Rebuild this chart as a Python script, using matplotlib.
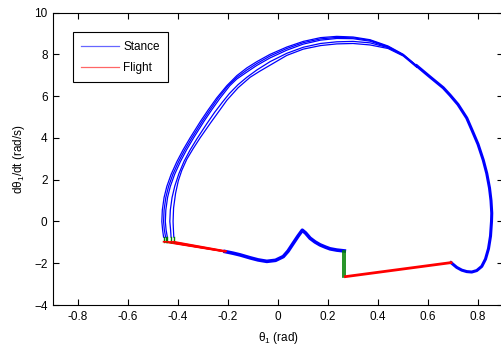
import matplotlib
matplotlib.use("Agg")
import matplotlib.pyplot as plt

plt.rcParams['font.family'] = ['Liberation Sans', 'DejaVu Sans']
plt.rcParams['mathtext.fontset'] = 'custom'
plt.rcParams['mathtext.rm'] = 'Liberation Sans'
plt.rcParams['mathtext.it'] = 'Liberation Sans'

# ---- data ----
# common right-hand stance arc (after the second flight phase)
right_arc_x = [0.692, 0.700, 0.715, 0.735, 0.755, 0.775, 0.795, 0.815, 0.830, 0.842, 0.850, 0.854, 0.855, 0.852,
               0.846, 0.835, 0.821, 0.800, 0.775, 0.755, 0.720, 0.688, 0.661, 0.608, 0.555]
right_arc_y = [-1.97, -2.05, -2.20, -2.33, -2.40, -2.42, -2.35, -2.15, -1.80, -1.30, -0.70, 0.00, 0.40, 1.00,
               1.60, 2.30, 2.94, 3.70, 4.40, 4.95, 5.60, 6.05, 6.40, 6.92, 7.45]

# upper/left stance arcs, one per cycle (outermost -> innermost)
loop1_x = [0.555, 0.501, 0.440, 0.368, 0.300, 0.235, 0.170, 0.101, 0.035, -0.032, -0.085, -0.125, -0.165, -0.205,
           -0.245, -0.279, -0.310, -0.352, -0.380, -0.405, -0.428, -0.445, -0.456, -0.463, -0.465, -0.462, -0.458]
loop1_y = [7.45, 8.00, 8.40, 8.70, 8.83, 8.86, 8.80, 8.62, 8.35, 8.00, 7.65, 7.35, 6.98, 6.50,
           5.92, 5.35, 4.80, 4.00, 3.43, 2.86, 2.25, 1.68, 1.15, 0.55, 0.00, -0.40, -0.75]
loop2_x = [0.555, 0.501, 0.440, 0.368, 0.300, 0.235, 0.170, 0.101, 0.035, -0.032, -0.085, -0.125, -0.165, -0.200,
           -0.239, -0.272, -0.303, -0.345, -0.373, -0.398, -0.421, -0.438, -0.449, -0.456, -0.458, -0.455, -0.450]
loop2_y = [7.45, 7.98, 8.37, 8.67, 8.79, 8.81, 8.74, 8.56, 8.28, 7.92, 7.56, 7.25, 6.90, 6.50,
           5.92, 5.35, 4.80, 4.00, 3.43, 2.86, 2.25, 1.68, 1.15, 0.55, 0.00, -0.40, -0.75]
loop3_x = [0.555, 0.501, 0.440, 0.368, 0.300, 0.235, 0.170, 0.101, 0.035, -0.032, -0.085, -0.125, -0.165, -0.193,
           -0.231, -0.265, -0.296, -0.338, -0.366, -0.391, -0.414, -0.431, -0.442, -0.449, -0.451, -0.448, -0.443]
loop3_y = [7.44, 7.96, 8.34, 8.63, 8.75, 8.76, 8.68, 8.49, 8.20, 7.83, 7.47, 7.15, 6.82, 6.50,
           5.92, 5.35, 4.80, 4.00, 3.43, 2.86, 2.25, 1.68, 1.15, 0.55, 0.00, -0.40, -0.75]
loop4_x = [0.555, 0.501, 0.440, 0.368, 0.300, 0.235, 0.170, 0.101, 0.035, -0.032, -0.085, -0.125, -0.160, -0.195,
           -0.222, -0.254, -0.285, -0.325, -0.352, -0.376, -0.397, -0.413, -0.424, -0.431, -0.433, -0.430, -0.428]
loop4_y = [7.40, 7.95, 8.32, 8.55, 8.62, 8.60, 8.52, 8.34, 8.05, 7.65, 7.25, 6.90, 6.55, 6.12,
           5.72, 5.22, 4.68, 3.95, 3.42, 2.88, 2.28, 1.70, 1.15, 0.55, 0.00, -0.40, -0.75]
loop5_x = [0.555, 0.501, 0.440, 0.368, 0.300, 0.235, 0.170, 0.101, 0.035, -0.032, -0.075, -0.112, -0.160, -0.205,
           -0.232, -0.270, -0.312, -0.340, -0.365, -0.385, -0.399, -0.410, -0.418, -0.420, -0.419, -0.418, -0.417]
loop5_y = [7.38, 7.92, 8.28, 8.45, 8.52, 8.50, 8.42, 8.25, 7.95, 7.48, 7.18, 6.90, 6.40, 5.80,
           5.35, 4.72, 4.00, 3.48, 2.98, 2.45, 1.95, 1.35, 0.65, 0.00, -0.30, -0.55, -0.75]

# first flight phase: per-cycle end points and common start height
flight1_end_x = [-0.216, -0.214, -0.212, -0.210, -0.208]
flight1_end_y = [-1.44, -1.43, -1.44, -1.43, -1.42]
flight1_start_y = -0.97

# stance between the two flight phases
bottom_x = [-0.212, -0.180, -0.152, -0.112, -0.080, -0.045, -0.010, 0.021, 0.040, 0.061, 0.080, 0.097,
            0.110, 0.128, 0.148, 0.168, 0.190, 0.208, 0.235, 0.265]
bottom_y = [-1.44, -1.52, -1.60, -1.74, -1.84, -1.91, -1.86, -1.68, -1.42, -1.04, -0.70, -0.42,
            -0.55, -0.80, -0.98, -1.12, -1.23, -1.31, -1.37, -1.41]

# impact (green) at mid-cycle and second flight phase
impact_x = [0.259, 0.268]
impact_top = -1.41
impact_bot = -2.64
flight2_x = [0.270, 0.692]
flight2_y = [-2.64, -1.97]

loops = [(loop1_x, loop1_y), (loop2_x, loop2_y), (loop3_x, loop3_y),
         (loop4_x, loop4_y), (loop5_x, loop5_y)]

fig = plt.figure(figsize=(5.01, 3.49), dpi=100)
ax = fig.add_axes([0.106, 0.126, 0.898, 0.838])

blue = (0, 0, 1)
red = (1, 0, 0)
green = (0, 0.5, 0)

ax.plot(right_arc_x, right_arc_y, color=blue, lw=2.2, solid_joinstyle='round')
ax.plot(bottom_x, bottom_y, color=blue, lw=2.6, solid_joinstyle='round')
for i, (lx, ly) in enumerate(loops):
    ax.plot(lx, ly, color=blue, lw=0.9, solid_joinstyle='round')
    ax.plot([lx[-1], lx[-1]], [ly[-1], flight1_start_y], color=green, lw=1.0)
    ax.plot([lx[-1], flight1_end_x[i]], [flight1_start_y, flight1_end_y[i]], color=red, lw=1.2)
for xi in impact_x:
    ax.plot([xi, xi], [impact_top, impact_bot], color=green, lw=1.2)
ax.plot(flight2_x, flight2_y, color=red, lw=2.0)

# legend proxies
ax.plot([], [], color=blue, lw=0.9, label='Stance')
ax.plot([], [], color=red, lw=0.9, label='Flight')

ax.set_xlim(-0.9, 0.9)
ax.set_ylim(-4, 10)
ax.set_xticks([-0.8, -0.6, -0.4, -0.2, 0, 0.2, 0.4, 0.6, 0.8])
ax.set_xticklabels(['-0.8', '-0.6', '-0.4', '-0.2', '0', '0.2', '0.4', '0.6', '0.8'])
ax.set_yticks([-4, -2, 0, 2, 4, 6, 8, 10])
ax.tick_params(direction='in', top=True, right=True, labelsize=8.5, length=4, width=0.8, pad=4)
for s in ax.spines.values():
    s.set_linewidth(0.8)

ax.set_xlabel('θ$_1$ (rad)', fontsize=8.5, labelpad=5)
ax.set_ylabel('dθ$_1$/dt (rad/s)', fontsize=8.5, labelpad=5)

leg = ax.legend(loc='upper left', bbox_to_anchor=(0.044, 0.932), fontsize=8.5,
                fancybox=False, edgecolor='black', framealpha=1, handlelength=3.2,
                borderpad=0.7, labelspacing=0.8, borderaxespad=0, handletextpad=0.35)
leg.get_frame().set_linewidth(0.8)
for l in leg.get_lines():
    l.set_alpha(0.6)

fig.savefig('out.png', dpi=100)
